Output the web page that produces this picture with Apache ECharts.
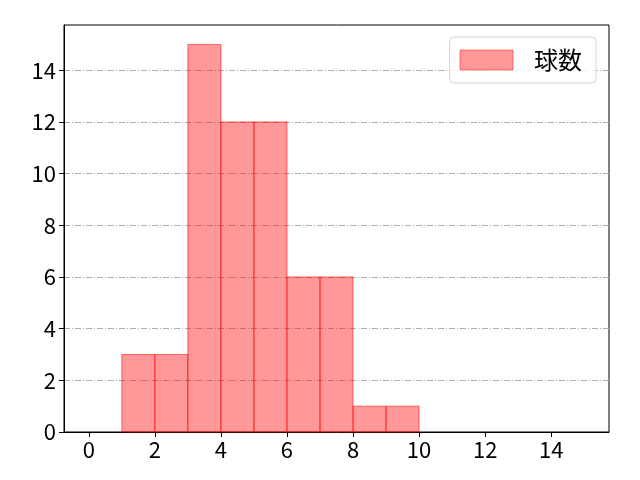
<!DOCTYPE html>
<html><head><meta charset="utf-8">
<script src="https://cdn.jsdelivr.net/npm/echarts@6/dist/echarts.min.js"></script>
<style>html,body{margin:0;padding:0;background:#fff}#c{width:640px;height:480px}</style>
</head><body><div id="c"></div>
<script>
const binStarts = [1,2,3,4,5,6,7,8,9];
const binEnds   = [2,3,4,5,6,7,8,9,10];
const counts    = [3,3,15,12,12,6,6,1,1];
const xTicks = [0,2,4,6,8,10,12,14];
const yTicks = [0,2,4,6,8,10,12,14];
const seriesName = '球数';

const FONT = '"Noto Sans CJK JP", "Noto Sans", sans-serif';
const data = binStarts.map((s,i)=>[s, binEnds[i], counts[i]]);
const chart = echarts.init(document.getElementById('c'), null, {renderer:'canvas'});
const axisCommon = {
  axisLine:{show:true,onZero:false,lineStyle:{color:'#000',width:1}},
  axisTick:{show:true,length:5,inside:false,lineStyle:{color:'#000',width:1}},
  axisLabel:{color:'#000',fontSize:22,fontFamily:FONT}
};
chart.setOption({
  animation:false,
  grid:{left:64,right:31,top:25,bottom:48,show:true,borderColor:'#000',borderWidth:1,backgroundColor:'transparent'},
  legend:{
    show:true, right:44, top:37, orient:'vertical',
    itemWidth:53, itemHeight:20, itemGap:0,
    padding:[11,14,11,10],
    borderColor:'#d6d6d6', borderWidth:1, borderRadius:4,
    backgroundColor:'rgba(255,255,255,0.8)',
    textStyle:{fontSize:24,fontFamily:FONT,color:'#000',padding:[0,0,0,16]},
    data:[{name:seriesName,icon:'rect',itemStyle:{color:'rgba(255,0,0,0.4)',borderColor:'rgba(255,0,0,0.45)',borderWidth:1}}]
  },
  xAxis:{type:'value',min:-0.75,max:15.75,...axisCommon,
    axisTick:{...axisCommon.axisTick,customValues:xTicks},
    axisLabel:{...axisCommon.axisLabel,customValues:xTicks,margin:7},
    splitLine:{show:false}},
  yAxis:{type:'value',min:0,max:15.75,...axisCommon,
    axisTick:{...axisCommon.axisTick,customValues:yTicks},
    axisLabel:{...axisCommon.axisLabel,customValues:yTicks,margin:8},
    splitLine:{show:true,lineStyle:{color:'#b0b0b0',width:1,type:[6,2,1,2]}}},
  series:[{
    name:seriesName,type:'custom',
    encode:{x:[0,1],y:2},
    renderItem:function(params,api){
      const p0 = api.coord([api.value(0), api.value(2)]);
      const p1 = api.coord([api.value(1), 0]);
      return {type:'rect',
        shape:{x:p0[0],y:p0[1],width:p1[0]-p0[0],height:p1[1]-p0[1]},
        style:{fill:'rgba(255,0,0,0.4)',stroke:'rgba(255,0,0,0.55)',lineWidth:1}};
    },
    data:data,z:3
  }]
});
</script></body></html>
